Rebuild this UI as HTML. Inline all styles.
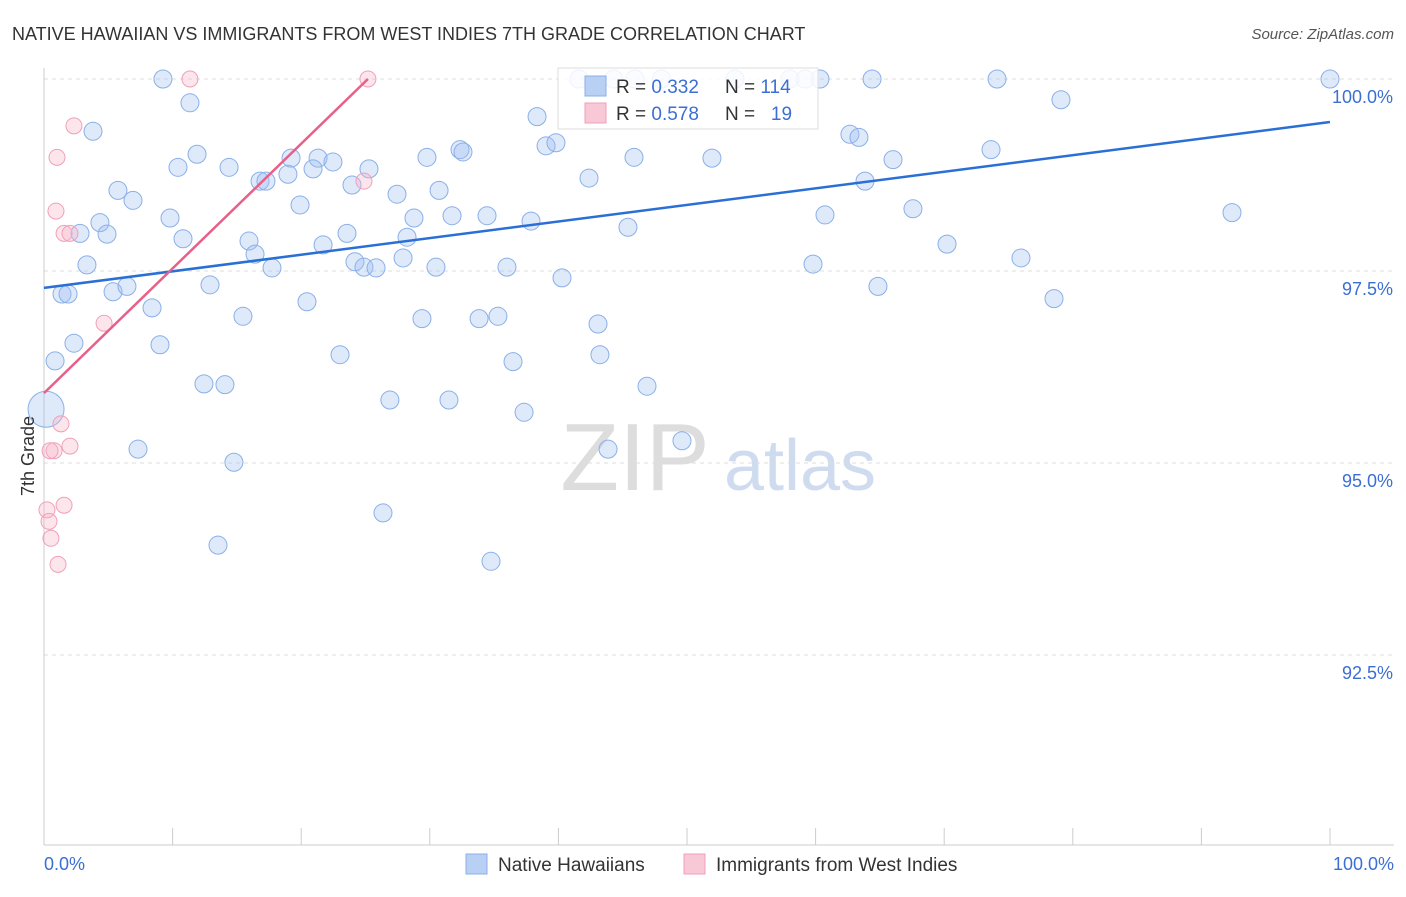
<!DOCTYPE html>
<html><head><meta charset="utf-8"><style>
body{margin:0;background:#fff;font-family:"Liberation Sans",sans-serif;}
svg text{font-family:"Liberation Sans",sans-serif;}
</style></head><body>
<svg id="chart" width="1406" height="892">
<text x="12" y="40" font-size="18" fill="#333">NATIVE HAWAIIAN VS IMMIGRANTS FROM WEST INDIES 7TH GRADE CORRELATION CHART</text>
<text x="1394" y="39" font-size="15" fill="#555" text-anchor="end" font-style="italic">Source: ZipAtlas.com</text>
<g><text x="635" y="490" font-size="96" fill="#ddd" text-anchor="middle" font-family="Liberation Serif">ZIP</text><text x="800" y="490" font-size="72" fill="#cfdcf0" text-anchor="middle">atlas</text></g>
<g id="grid"></g><g id="axes"></g><g id="marks"></g>
<text transform="translate(34,456) rotate(-90)" font-size="18" fill="#333" text-anchor="middle">7th Grade</text>
<text x="44" y="870" font-size="18" fill="#3b6fd4">0.0%</text>
<text x="1394" y="870" font-size="18" fill="#3b6fd4" text-anchor="end">100.0%</text>
<g>
<rect x="558" y="68" width="260" height="61" fill="#fff" fill-opacity="0.85" stroke="#ddd"/>
<rect x="585" y="76" width="21" height="20" fill="#b8d0f4" stroke="#8ab0e8"/>
<rect x="585" y="103" width="21" height="20" fill="#f9c8d6" stroke="#f0a0b8"/>
<text x="616" y="93" font-size="19" fill="#333">R = <tspan fill="#3b6fd4">0.332</tspan></text>
<text x="725" y="93" font-size="19" fill="#333">N = <tspan fill="#3b6fd4">114</tspan></text>
<text x="616" y="120" font-size="19" fill="#333">R = <tspan fill="#3b6fd4">0.578</tspan></text>
<text x="725" y="120" font-size="19" fill="#333">N = <tspan fill="#3b6fd4">&#160; 19</tspan></text>
</g>
<g>
<rect x="466" y="854" width="21" height="20" fill="#b8d0f4" stroke="#8ab0e8"/>
<text x="498" y="871" font-size="19" fill="#333">Native Hawaiians</text>
<rect x="684" y="854" width="21" height="20" fill="#f9c8d6" stroke="#f0a0b8"/>
<text x="716" y="871" font-size="19" fill="#333">Immigrants from West Indies</text>
</g>
</svg>
<script>
const yTicks=[100,97.5,95,92.5];
const yTickLabels=["100.0%","97.5%","95.0%","92.5%"];
const blueX=[9.25,11.35,3.81,11.9,10.42,14.39,5.75,6.92,4.35,2.8,4.9,9.8,10.81,16.8,17.26,19.21,18.97,21.31,20.92,22.47,25.27,23.95,19.91,15.94,16.41,17.73,21.7,23.56,24.18,24.88,25.82,27.45,28.77,28.23,27.92,30.48,29.78,30.72,31.73,32.35,32.58,34.45,37.87,36.0,38.34,39.04,39.81,42.38,41.6,45.88,45.41,51.94,45.96,53.73,59.18,60.34,64.39,74.11,100,79.08,62.67,63.37,66.02,73.64,63.84,67.57,60.73,70.22,59.8,75.97,64.85,78.54,92.38,3.34,1.4,1.87,5.37,6.45,8.4,12.91,15.47,20.45,9.02,2.33,0.86,12.44,14.07,23.02,29.39,33.83,35.3,40.28,43.08,43.23,36.47,26.9,31.49,37.33,46.89,49.61,43.86,7.31,14.77,26.36,13.53,34.76,44.3,48.0,58.0];
const blueY=[100,99.69,99.32,99.02,98.85,98.85,98.55,98.42,98.13,97.99,97.98,98.19,97.92,98.67,98.67,98.97,98.76,98.97,98.83,98.92,98.83,98.62,98.36,97.89,97.72,97.54,97.84,97.99,97.62,97.55,97.54,98.5,98.19,97.94,97.67,97.55,98.98,98.55,98.22,99.08,99.05,98.22,98.15,97.55,99.51,99.13,99.17,98.71,100,98.98,98.07,98.97,100,100,100,100,100,100,100,99.73,99.28,99.24,98.95,99.08,98.67,98.31,98.23,97.85,97.59,97.67,97.3,97.14,98.26,97.58,97.2,97.2,97.23,97.3,97.02,97.32,96.91,97.1,96.54,96.56,96.33,96.03,96.02,96.41,96.88,96.88,96.91,97.41,96.81,96.41,96.32,95.82,95.82,95.66,96.0,95.29,95.18,95.18,95.01,94.35,93.93,93.72,100,100,100];
const pinkX=[11.35,25.19,24.88,2.33,1.01,0.93,1.56,2.02,4.67,1.32,2.02,0.78,0.47,1.56,0.23,0.39,0.54,1.09];
const pinkY=[100,100,98.67,99.39,98.98,98.28,97.99,97.99,96.82,95.51,95.22,95.16,95.16,94.45,94.39,94.24,94.02,93.68];
const bigBlue=[0.16,95.7];
const blueTrend=[[0,97.28],[100,99.44]];
const pinkTrend=[[0,95.91],[25.19,100]];
const NS="http://www.w3.org/2000/svg";
const xs=v=>44+v*12.86, ys=v=>79+(100-v)*76.8;
function mk(tag,attrs,parent){const e=document.createElementNS(NS,tag);for(const k in attrs)e.setAttribute(k,attrs[k]);document.getElementById(parent).appendChild(e);return e;}
yTicks.forEach((t,i)=>{
 let l=mk('line',{x1:44,x2:1394,y1:ys(t),y2:ys(t),stroke:'#ddd','stroke-dasharray':'4,4'},'grid');
 
 
 let tx=mk('text',{x:1393,y:ys(t)+24,'font-size':18,fill:'#3b6fd4','text-anchor':'end'},'grid');
 tx.textContent=yTickLabels[i];
 
 
});
let a=mk('line',{x1:44,x2:44,y1:68,y2:845,stroke:'#ccc'},'axes');


let b=mk('line',{x1:44,x2:1394,y1:845,y2:845,stroke:'#ccc'},'axes');


for(let i=0;i<=10;i++){let t=mk('line',{x1:xs(i*10),x2:xs(i*10),y1:828,y2:845,stroke:'#ccc'},'axes');
 
 }
blueX.forEach((x,i)=>{let c=mk('circle',{cx:xs(x),cy:ys(blueY[i]),r:9,fill:'rgba(160,192,240,0.35)',stroke:'#8ab0e8','stroke-width':1},'marks');
 
 });
let bb=mk('circle',{cx:xs(bigBlue[0]),cy:ys(bigBlue[1]),r:18,fill:'rgba(160,192,240,0.35)',stroke:'#8ab0e8'},'marks');


pinkX.forEach((x,i)=>{let c=mk('circle',{cx:xs(x),cy:ys(pinkY[i]),r:8,fill:'rgba(248,180,200,0.35)',stroke:'#f0a0b8','stroke-width':1},'marks');
 
 });
let bt=mk('line',{x1:xs(blueTrend[0][0]),y1:ys(blueTrend[0][1]),x2:xs(blueTrend[1][0]),y2:ys(blueTrend[1][1]),stroke:'#2a6fd6','stroke-width':2.5},'marks');


let pt=mk('line',{x1:xs(pinkTrend[0][0]),y1:ys(pinkTrend[0][1]),x2:xs(pinkTrend[1][0]),y2:ys(pinkTrend[1][1]),stroke:'#e8608a','stroke-width':2.5},'marks');


</script>
</body></html>
